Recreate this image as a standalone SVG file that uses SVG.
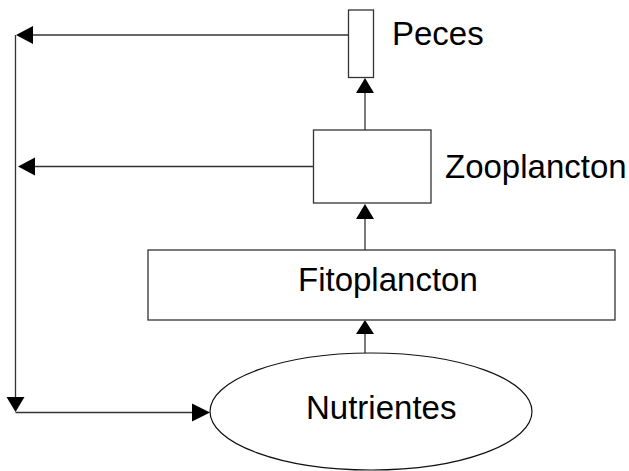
<svg xmlns="http://www.w3.org/2000/svg" width="629" height="471" viewBox="0 0 629 471">
<style>
.box{fill:#fff;stroke:#333;stroke-width:1.3}
.ln{fill:none;stroke:#333;stroke-width:1.3}
.ah{fill:#000;stroke:none}
.lbl{font-family:"Liberation Sans",Arial,sans-serif;font-size:33px;fill:#000}
</style>
<rect width="629" height="471" fill="#fff"/>
<g id="connectors">
<line class="ln" x1="348.5" y1="35" x2="28" y2="35"/>
<polygon class="ah" points="16,35 33,26 33,44"/>
<line class="ln" x1="313.5" y1="166.5" x2="30" y2="166.5"/>
<polygon class="ah" points="18,166.5 35,157.5 35,175.5"/>
<line class="ln" x1="15.5" y1="35" x2="15.5" y2="400"/>
<polygon class="ah" points="15.5,412 6.5,397 24.5,397"/>
<line class="ln" x1="15.5" y1="412.5" x2="196" y2="412.5"/>
<polygon class="ah" points="210,412.5 192,403.5 192,421.5"/>
<line class="ln" x1="365" y1="130" x2="365" y2="90"/>
<polygon class="ah" points="365,78 356,93 374,93"/>
<line class="ln" x1="365" y1="250" x2="365" y2="215"/>
<polygon class="ah" points="365,204 356,219 374,219"/>
<line class="ln" x1="365" y1="353" x2="365" y2="330"/>
<polygon class="ah" points="365,320 356,334 374,334"/>
</g>
<g id="peces">
<rect class="box" x="348.5" y="10" width="25" height="67.5"/>
<text class="lbl" x="392" y="45">Peces</text>
</g>
<g id="zooplancton">
<rect class="box" x="313.5" y="130" width="117.5" height="73"/>
<text class="lbl" x="445" y="178">Zooplancton</text>
</g>
<g id="fitoplancton">
<rect class="box" x="148" y="250" width="467" height="70"/>
<text class="lbl" x="298" y="291">Fitoplancton</text>
</g>
<g id="nutrientes">
<ellipse cx="371" cy="411.5" rx="161" ry="58.5" fill="#fff" stroke="#111" stroke-width="1.2"/>
<text class="lbl" x="306" y="419">Nutrientes</text>
</g>
</svg>
